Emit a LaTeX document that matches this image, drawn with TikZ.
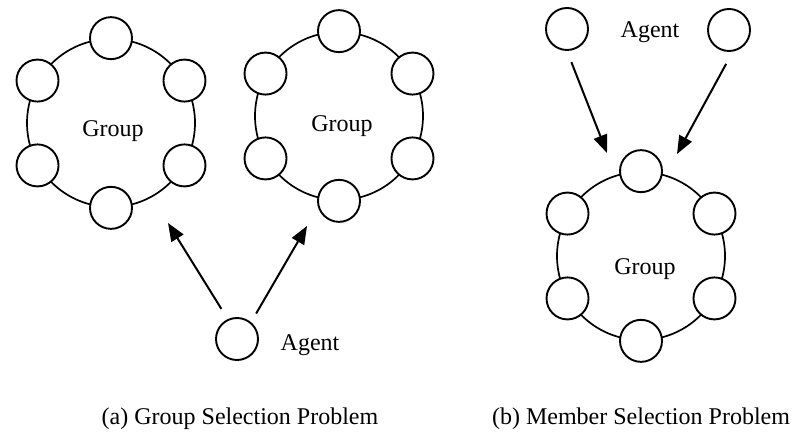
\documentclass[tikz,border=0pt]{standalone}
\usepackage{fontspec}
\setmainfont{Liberation Serif}
\usetikzlibrary{arrows.meta}

\begin{document}
\begin{tikzpicture}[x=0.5pt,y=-0.5pt,
    ring/.style={draw,circle,line width=0.85pt,minimum size=84pt,inner sep=0pt},
    member/.style={draw,circle,fill=white,line width=0.95pt,minimum size=21pt,inner sep=0pt},
    arr/.style={line width=1pt,-{Triangle[length=9pt,width=7pt]}},
    font=\fontsize{12}{14}\selectfont]
    \useasboundingbox (0,0) rectangle (797,432);
    \foreach \g/\x/\y/\tx/\ty in {1/111/123/113/131,2/339/116/342/126,3/641/256/645/269}{
        \node[ring] (g\g) at (\x,\y) {};
        \node (g\g-name) at (\tx,\ty) {Group};
        \foreach \a [count=\k] in {90,30,-30,-90,-150,150}{
            \node[member] (g\g-\k) at (g\g.\a) {};
        }
    }
    \node[member] (a1) at (237,339) {};
    \node (a1-name) at (310,345) {Agent};
    \node[member] (b1) at (567,29) {};
    \node[member] (b2) at (729,30) {};
    \node (b-name) at (650,32) {Agent};
    \coordinate (t1) at (168,223);
    \coordinate (t2) at (307,226);
    \coordinate (t3) at (607,153);
    \coordinate (t4) at (677,154);
    \draw[arr,shorten <=6pt] (a1.115) -- (t1);
    \draw[arr,shorten <=5pt] (a1.50) -- (t2);
    \draw[arr,shorten <=6pt] (b1.south) -- (t3);
    \draw[arr,shorten <=7pt] (b2.-80) -- (t4);
    \node[anchor=base] (cap-a) at (240,424) {(a) Group Selection Problem};
    \node[anchor=base] (cap-b) at (641,424) {(b) Member Selection Problem};
\end{tikzpicture}
\end{document}
